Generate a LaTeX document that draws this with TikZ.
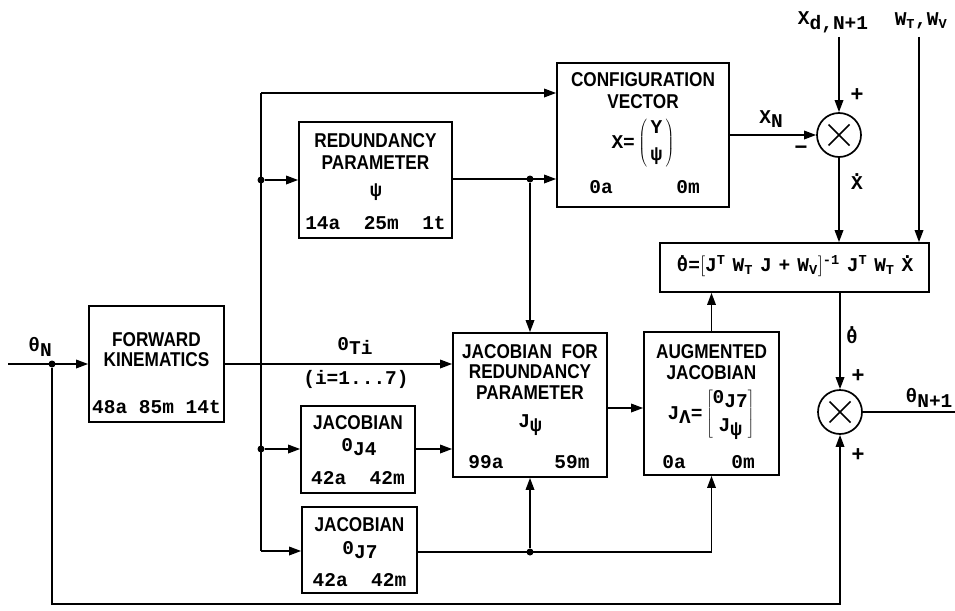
\documentclass[tikz,border=0pt]{standalone}
\usepackage{fontspec}
\setmainfont{Liberation Sans}
\setmonofont{Liberation Mono}
\newfontfamily\labf[FakeStretch=0.86]{Liberation Sans Bold}
\newfontfamily\signf{Liberation Sans Bold}
\newfontfamily\monf{Liberation Mono}
\usetikzlibrary{arrows.meta}
\newcommand\lw[1]{\raisebox{-0.45ex}{#1}}
\newcommand\subs[1]{\textsubscript{#1}}
\newcommand\sups[1]{\textsuperscript{#1}}
\newcommand\dotted[1]{\ooalign{#1\cr\hidewidth\raisebox{0.68em}{.}\hidewidth\cr}}
\newcommand\gp{\hspace{7pt}}
\tikzset{
  box/.style={draw, line width=1.7pt, inner sep=0pt},
  wire/.style={line width=1.7pt},
  arr/.style={wire, -{Triangle[length=12pt,width=8.5pt]}},
  lab/.style={font=\labf\fontsize{20}{22}\selectfont, inner sep=0pt},
  num/.style={font=\monf\bfseries\fontsize{19.5}{21}\selectfont, inner sep=0pt},
  sign/.style={font=\signf\fontsize{22}{24}\selectfont, inner sep=0pt},
  dotj/.style={circle, fill, inner sep=0pt, minimum size=7pt},
  sumj/.style={circle, draw, line width=1.7pt, minimum size=44pt, inner sep=0pt},
}
\begin{document}
\begin{tikzpicture}[x=1pt, y=-1pt]
\useasboundingbox (0,0) rectangle (955,610);

% ---- boxes
\node[box, minimum width=135pt, minimum height=116pt] (fk) at (156.5,364) {};
\node[box, minimum width=153pt, minimum height=116pt] (rp) at (375.5,180) {};
\node[box, minimum width=172pt, minimum height=144pt] (cv) at (643,135) {};
\node[box, minimum width=154pt, minimum height=144pt] (jfr) at (530,405) {};
\node[box, minimum width=114pt, minimum height=87pt] (j4) at (358,449.5) {};
\node[box, minimum width=115pt, minimum height=86pt] (j7) at (359.5,550) {};
\node[box, minimum width=135pt, minimum height=143pt] (aug) at (711.5,403.5) {};
\node[box, minimum width=269pt, minimum height=49pt] (fm) at (794.5,267.5) {};
\node[sumj] (s1) at (839,135) {};
\node[sumj] (s2) at (840,412) {};
\foreach \s in {s1,s2}{
  \draw[wire] ([shift={(-10.5pt,-10.5pt)}]\s.center) -- ([shift={(10.5pt,10.5pt)}]\s.center);
  \draw[wire] ([shift={(-10.5pt,10.5pt)}]\s.center) -- ([shift={(10.5pt,-10.5pt)}]\s.center);
}

% ---- box texts
\node[lab] (fkA) at (156.5,340) {FORWARD};
\node[lab] (fkB) at (156.5,360) {KINEMATICS};
\node[num] (fkC) at (156.5,407) {48a 85m 14t};

\node[lab] (rpA) at (375.5,141) {REDUNDANCY};
\node[lab] (rpB) at (375.5,163) {PARAMETER};
\node[num] (rpC) at (376,192) {ψ};
\node[num] (rpD) at (375.5,223) {14a\ \ 25m\ \ 1t};

\node[lab] (cvA) at (643,80) {CONFIGURATION};
\node[lab] (cvB) at (643,102) {VECTOR};
\node[num] (cvC) at (643,143) {$\hbox{X=}\left(\,\begin{array}{@{}c@{}}\hbox{Y}\\[6pt]\hbox{ψ}\end{array}\,\right)$};
\node[num] (cvD) at (601,187) {0a};
\node[num] (cvE) at (688,187) {0m};

\node[lab] (jfA) at (530,352) {JACOBIAN\ \ FOR};
\node[lab] (jfB) at (530,372) {REDUNDANCY};
\node[lab] (jfC) at (530,393) {PARAMETER};
\node[num] (jfD) at (530,425) {J\lw{ψ}};
\node[num] (jfE) at (486,462) {99a};
\node[num] (jfF) at (572,462) {59m};

\node[lab] (j4A) at (358,423) {JACOBIAN};
\node[num] (j4B) at (359,447) {0\lw{J4}};
\node[num] (j4C) at (358,478) {42a\ \ 42m};

\node[lab] (j7A) at (359.5,525) {JACOBIAN};
\node[num] (j7B) at (360,550) {0\lw{J7}};
\node[num] (j7C) at (359.5,580) {42a\ \ 42m};

\node[lab] (auA) at (711.5,352) {AUGMENTED};
\node[lab] (auB) at (711.5,373) {JACOBIAN};
\node[num] (auC) at (711,414) {$\hbox{J\lw{Λ}=}\left[\begin{array}{@{}c@{}}\hbox{0\lw{J7}}\\[7pt]\hbox{J\lw{ψ}}\end{array}\right]$};
\node[num] (auD) at (674,462) {0a};
\node[num] (auE) at (743,462) {0m};

\node[num] (fmA) at (795,266) {\dotted{θ}=$\Bigl[$J\sups{T}\gp W\subs{T}\gp J\gp+\gp W\subs{V}$\Bigr]$\sups{-1}\gp J\sups{T}\gp W\subs{T}\gp\dotted{X}};

% ---- outside labels
\node[num] (thN) at (40,347) {θ\lw{N}};
\node[num] (Ti) at (355,346) {0\lw{Ti}};
\node[num] (irange) at (356,379) {(i=1...7)};
\node[num] (xdl) at (833,22) {X\lw{d,N+1}};
\node[num] (wl) at (921,21) {W\subs{T},W\subs{V}};
\node[num] (xnl) at (771,119) {X\lw{N}};
\node[sign] (minus) at (801,150) {−};
\node[sign] (p1) at (857,95) {+};
\node[num] (xdot) at (857,183) {\dotted{X}};
\node[num] (thdot) at (852,336) {\dotted{θ}};
\node[sign] (p2) at (858,376) {+};
\node[sign] (p3) at (858,455) {+};
\node[num] (thN1) at (929,398) {θ\lw{N+1}};

% ---- connectors
\coordinate (in) at (8,364);
\node[dotj] (d0) at (52,364) {};
\draw[arr] (in) -- (fk.west);
\coordinate (bl) at (52,604);
\draw[arr] (d0) -- (bl) -- (bl -| s2.south) -- (s2.south);

\draw[arr] (fk.east) -- (fk.east -| jfr.west);

\coordinate (bt) at (261,93);
\coordinate (bb) at (261,551);
\node[dotj] (d1) at (261,180) {};
\node[dotj] (d2) at (261,449) {};
\draw[wire] (bt) -- (bb);
\draw[arr] (bt) -- (bt -| cv.west);
\draw[arr] (d1) -- (d1 -| rp.west);
\draw[arr] (d2) -- (d2 -| j4.west);
\draw[arr] (bb) -- (bb -| j7.west);

\node[dotj] (d3) at (530,179) {};
\draw[arr] (rp.east |- d3) -- (d3 -| cv.west);
\draw[arr] (d3) -- (jfr.north);

\draw[arr] (j4.east |- d2) -- (d2 -| jfr.west);

\node[dotj] (d4) at (530,552) {};
\coordinate (br) at (711.5,552);
\draw[wire] (j7.east |- d4) -- (br);
\draw[arr] (br) -- (aug.south);
\draw[arr] (d4) -- (jfr.south);

\draw[arr] (jfr.east |- 0,408) -- (aug.west |- 0,408);
\draw[arr] (aug.north) -- (aug.north |- fm.south);

\draw[arr] (cv.east |- s1.west) -- (s1.west);
\coordinate (xin) at (839,37);
\draw[arr] (xin) -- (s1.north);
\coordinate (win) at (919,37);
\draw[arr] (win) -- (win |- fm.north);
\draw[arr] (s1.south) -- (s1.south |- fm.north);
\draw[arr] (s2.north |- fm.south) -- (s2.north);
\coordinate (out) at (955,412);
\draw[wire] (s2.east) -- (out);
\end{tikzpicture}
\end{document}
